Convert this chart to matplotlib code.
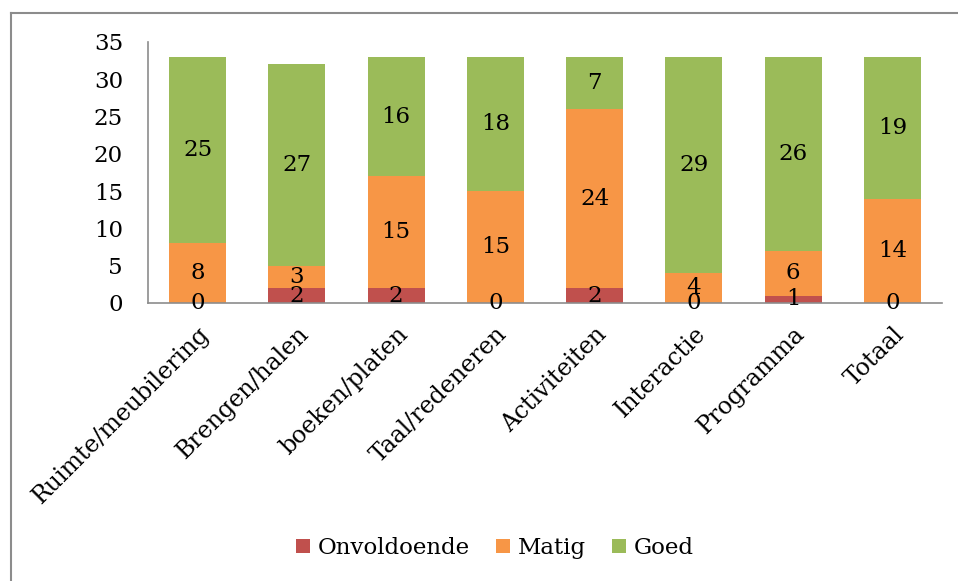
import matplotlib
matplotlib.use('Agg')
import matplotlib.pyplot as plt
from matplotlib.lines import Line2D
import numpy as np

categories = ['Ruimte/meubilering', 'Brengen/halen', 'boeken/platen', 'Taal/redeneren',
              'Activiteiten', 'Interactie', 'Programma', 'Totaal']
onvoldoende = [0, 2, 2, 0, 2, 0, 1, 0]
matig = [8, 3, 15, 15, 24, 4, 6, 14]
goed = [25, 27, 16, 18, 7, 29, 26, 19]

series = [('Onvoldoende', onvoldoende, '#C0504D'),
          ('Matig', matig, '#F79646'),
          ('Goed', goed, '#9BBB59')]

plt.rcParams['font.family'] = ['DejaVu Serif']
fs = 16.5

fig = plt.figure(figsize=(9.58, 5.81), dpi=100)
ax = fig.add_axes([148/958, 1 - 303/581, (942 - 148)/958, (303 - 42)/581])

x = np.arange(len(categories))
bottom = np.zeros(len(categories))
for name, vals, col in series:
    vals = np.array(vals)
    ax.bar(x, vals, 0.575, bottom=bottom, color=col, label=name, zorder=2)
    for xi, b, v in zip(x, bottom, vals):
        ax.text(xi, b + v / 2, str(v), ha='center', va='center', fontsize=fs, zorder=3)
    bottom = bottom + vals

ax.set_xlim(-0.5, len(categories) - 0.5)
ax.set_ylim(0, 35)
ax.set_yticks(range(0, 36, 5))
ax.set_xticks(x)
ax.set_xticklabels(categories, rotation=45, ha='right', rotation_mode='anchor', fontsize=fs + 0.5)
ax.tick_params(axis='y', length=0, pad=18, labelsize=fs)
ax.tick_params(axis='x', length=0, pad=14)
for s in ['top', 'right']:
    ax.spines[s].set_visible(False)
for s in ['left', 'bottom']:
    ax.spines[s].set_color('#8c8c8c')
    ax.spines[s].set_linewidth(1.2)

fig.legend(loc='center', bbox_to_anchor=(495/958, 1 - 548/581), ncol=3, frameon=False,
           fontsize=fs, handlelength=0.6, handleheight=0.6, columnspacing=1.15,
           handletextpad=0.35)

# outer chart border (only left and top visible)
fig.add_artist(Line2D([11/958, 11/958], [0, 1 - 13/581], transform=fig.transFigure,
                      color='#8c8c8c', lw=1.5))
fig.add_artist(Line2D([11/958, 1], [1 - 13/581, 1 - 13/581], transform=fig.transFigure,
                      color='#8c8c8c', lw=1.5))

fig.savefig('out.png', dpi=100)
